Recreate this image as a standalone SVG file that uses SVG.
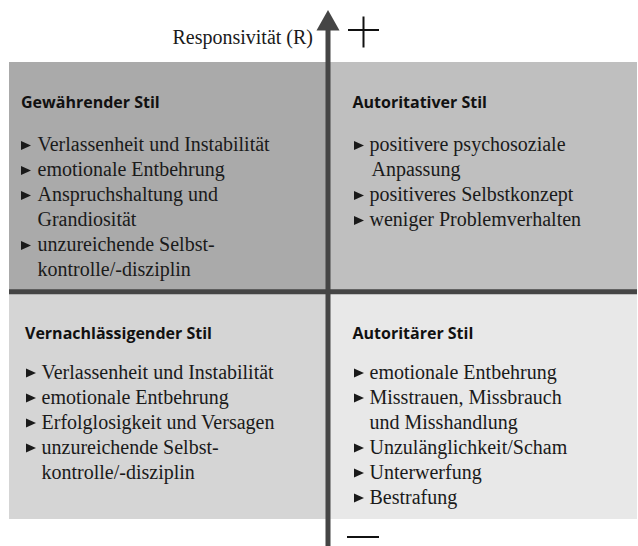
<svg xmlns="http://www.w3.org/2000/svg" xmlns:xlink="http://www.w3.org/1999/xlink" width="638" height="546" viewBox="0 0 638 546">
  <style>
    .h { font-family: "Open Sans", "Liberation Sans", sans-serif; font-weight: 700; font-size: 16px; fill: #111; }
    .t { font-family: "Liberation Serif", "Times New Roman", serif; font-size: 20px; fill: #1a1a1a; }
    .axis { stroke: #454545; stroke-width: 5; fill: none; }
    .sign { stroke: #111; stroke-width: 2; fill: none; }
  </style>
  <defs>
    <polygon id="b" points="0,-4.5 10,0 0,4.5" fill="#1a1a1a"/>
  </defs>
  <rect width="638" height="546" fill="#ffffff"/>

  <g id="q-gewaehrend">
    <rect x="9" y="62" width="319" height="230" fill="#aaaaaa"/>
    <text class="h" x="21" y="108">Gewährender Stil</text>
    <use xlink:href="#b" x="21" y="145.5"/>
    <text class="t" x="37.5" y="151">Verlassenheit und Instabilität</text>
    <use xlink:href="#b" x="21" y="170.5"/>
    <text class="t" x="37.5" y="176">emotionale Entbehrung</text>
    <use xlink:href="#b" x="21" y="195.5"/>
    <text class="t" x="37.5" y="201">Anspruchshaltung und</text>
    <text class="t" x="37.5" y="226">Grandiosität</text>
    <use xlink:href="#b" x="21" y="245.5"/>
    <text class="t" x="37.5" y="251">unzureichende Selbst-</text>
    <text class="t" x="37.5" y="276">kontrolle/-disziplin</text>
  </g>

  <g id="q-autoritativ">
    <rect x="328" y="62" width="309" height="230" fill="#bfbfbf"/>
    <text class="h" x="352.5" y="108">Autoritativer Stil</text>
    <use xlink:href="#b" x="354" y="145.5"/>
    <text class="t" x="369.5" y="151">positivere psychosoziale</text>
    <text class="t" x="371.5" y="176">Anpassung</text>
    <use xlink:href="#b" x="354" y="195.5"/>
    <text class="t" x="369.5" y="201">positiveres Selbstkonzept</text>
    <use xlink:href="#b" x="354" y="220.5"/>
    <text class="t" x="369.5" y="226">weniger Problemverhalten</text>
  </g>

  <g id="q-vernachlaessigend">
    <rect x="9" y="292" width="319" height="227" fill="#d5d5d5"/>
    <text class="h" x="25" y="339">Vernachlässigender Stil</text>
    <use xlink:href="#b" x="26" y="373"/>
    <text class="t" x="41.5" y="378.5">Verlassenheit und Instabilität</text>
    <use xlink:href="#b" x="26" y="398"/>
    <text class="t" x="41.5" y="403.5">emotionale Entbehrung</text>
    <use xlink:href="#b" x="26" y="423"/>
    <text class="t" x="41.5" y="428.5">Erfolglosigkeit und Versagen</text>
    <use xlink:href="#b" x="26" y="448"/>
    <text class="t" x="41.5" y="453.5">unzureichende Selbst-</text>
    <text class="t" x="41.5" y="478.5">kontrolle/-disziplin</text>
  </g>

  <g id="q-autoritaer">
    <rect x="328" y="292" width="309" height="227" fill="#e8e8e8"/>
    <text class="h" x="352.5" y="339">Autoritärer Stil</text>
    <use xlink:href="#b" x="354" y="373"/>
    <text class="t" x="369.5" y="378.5">emotionale Entbehrung</text>
    <use xlink:href="#b" x="354" y="398"/>
    <text class="t" x="369.5" y="403.5">Misstrauen, Missbrauch</text>
    <text class="t" x="369.5" y="428.5">und Misshandlung</text>
    <use xlink:href="#b" x="354" y="448"/>
    <text class="t" x="369.5" y="453.5">Unzulänglichkeit/Scham</text>
    <use xlink:href="#b" x="354" y="473"/>
    <text class="t" x="369.5" y="478.5">Unterwerfung</text>
    <use xlink:href="#b" x="354" y="498"/>
    <text class="t" x="369.5" y="503.5">Bestrafung</text>
  </g>

  <g id="connectors">
    <line class="axis" x1="9" y1="291.8" x2="637" y2="291.8" stroke-width="4.5"/>
    <line class="axis" x1="328" y1="28" x2="328" y2="546"/>
    <polygon points="328,10 339.5,30.5 316.5,30.5" fill="#454545"/>
  </g>

  <g id="axis-label">
    <text class="t" x="313" y="44" text-anchor="end" font-size="19.5">Responsivität (R)</text>
    <line class="sign" x1="348" y1="30" x2="379" y2="30"/>
    <line class="sign" x1="363.5" y1="16.5" x2="363.5" y2="47.5"/>
    <line class="sign" x1="347" y1="537" x2="379" y2="537"/>
  </g>
</svg>
